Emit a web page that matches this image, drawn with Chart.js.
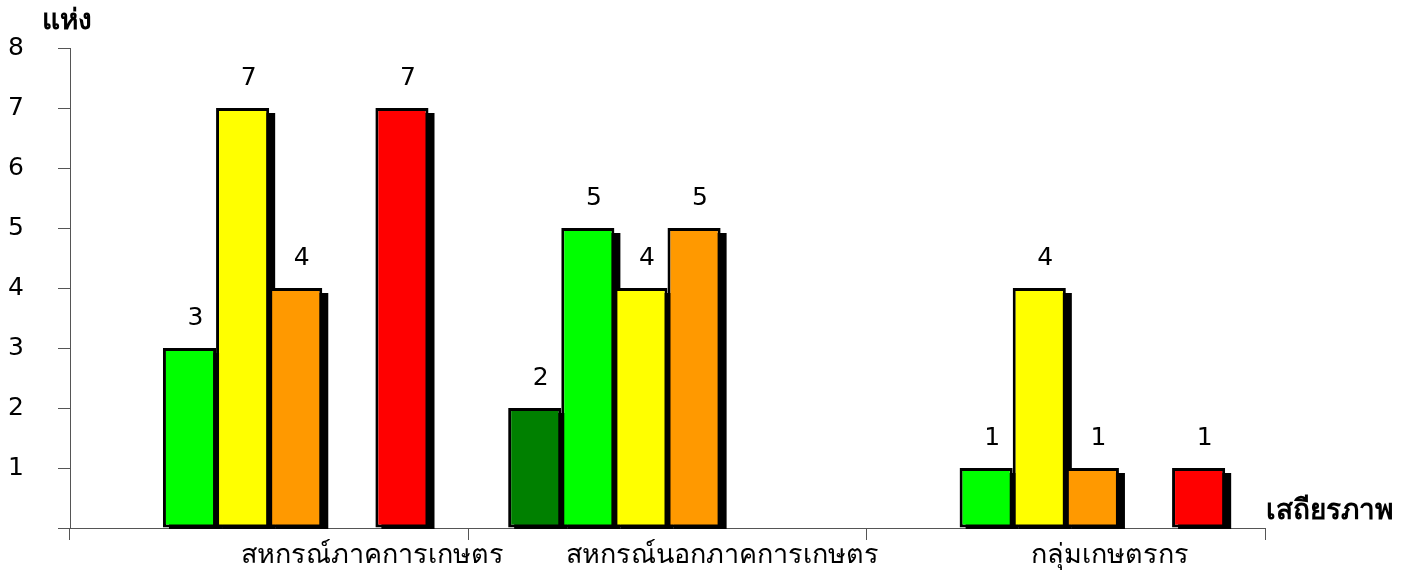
<!DOCTYPE html>
<html lang="th">

<head>
	<meta charset="UTF-8">
	<title>เสถียรภาพ</title>
	<style>
		body { margin: 0; background: #fff; }
	</style>
</head>

<body>
	<canvas id="myChart" width="1408" height="573"></canvas>

	<script src="https://cdn.jsdelivr.net/npm/chart.js"></script>
	<script>
		const categories = ['สหกรณ์ภาคการเกษตร', 'สหกรณ์นอกภาคการเกษตร', 'กลุ่มเกษตรกร'];
		const darkGreenValues = [null, 2, null];
		const greenValues = [3, 5, 1];
		const yellowValues = [7, 4, 4];
		const orangeValues = [4, 5, 1];
		const emptyValues = [null, null, null];
		const redValues = [7, null, 1];
		const yMax = 8;

		const FONT = "'DejaVu Sans', 'Noto Sans', sans-serif";
		// the x labels in the picture sit right of the category centres
		const labelShift = [103, 55, 44];

		function bars(label, values, color) {
			return {
				label: label,
				data: values,
				backgroundColor: color,
				borderColor: '#000',
				borderWidth: 3,
				borderSkipped: false,
				barPercentage: 1,
				categoryPercentage: 0.8
			};
		}

		const data = {
			labels: categories,
			datasets: [
				bars('1', darkGreenValues, '#008000'),
				bars('2', greenValues, '#00ff00'),
				bars('3', yellowValues, '#ffff00'),
				bars('4', orangeValues, '#ff9900'),
				bars('5', emptyValues, '#ffffff'),
				bars('6', redValues, '#ff0000')
			]
		};

		const decor = {
			id: 'decor',
			beforeDatasetsDraw: (chart) => {
				const ctx = chart.ctx;
				const base = chart.scales.y.getPixelForValue(0);
				ctx.save();
				ctx.fillStyle = '#000';
				chart.data.datasets.forEach((ds, i) => {
					chart.getDatasetMeta(i).data.forEach((bar, j) => {
						if (ds.data[j] == null) return;
						const w = bar.width;
						ctx.fillRect(bar.x - w / 2 + 6, bar.y + 5, w, base - bar.y - 4);
					});
				});
				ctx.restore();
			},
			afterDatasetsDraw: (chart) => {
				const ctx = chart.ctx;
				ctx.save();
				ctx.fillStyle = '#000';
				ctx.textAlign = 'center';
				ctx.textBaseline = 'middle';
				ctx.font = '25px ' + FONT;
				chart.data.datasets.forEach((ds, i) => {
					chart.getDatasetMeta(i).data.forEach((bar, j) => {
						if (ds.data[j] == null) return;
						ctx.fillText(String(ds.data[j]), bar.x + 6, bar.y - 30);
					});
				});
				ctx.restore();
			},
			afterDraw: (chart) => {
				const ctx = chart.ctx;
				const x = chart.scales.x;
				const y = chart.scales.y;
				ctx.save();
				ctx.fillStyle = '#000';
				ctx.textBaseline = 'middle';
				ctx.font = '27px ' + FONT;
				ctx.textAlign = 'center';
				categories.forEach((c, i) => {
					ctx.fillText(c, x.getPixelForValue(i) + labelShift[i], x.top + 28);
				});
				ctx.font = 'bold 28px ' + FONT;
				ctx.textAlign = 'left';
				ctx.fillText('เสถียรภาพ', x.right + 1, x.top - 16);
				ctx.fillText('แห่ง', y.right - 28, y.top - 26);
				ctx.restore();
			}
		};

		const config = {
			type: 'bar',
			data: data,
			plugins: [decor],
			options: {
				responsive: false,
				animation: false,
				devicePixelRatio: 1,
				layout: {
					padding: { top: 48, right: 143, left: 0, bottom: 0 }
				},
				plugins: {
					legend: { display: false },
					tooltip: { enabled: false }
				},
				scales: {
					x: {
						afterFit: (s) => { s.height = 45; },
						ticks: { display: false },
						grid: {
							offset: true,
							drawOnChartArea: false,
							tickLength: 12,
							color: '#555'
						},
						border: { color: '#555', width: 1 }
					},
					y: {
						min: 0,
						max: yMax,
						afterFit: (s) => {
							s.width = 70;
							// big label padding would otherwise push the plot area in
							s.paddingTop = 10;
							s.paddingBottom = 10;
						},
						ticks: {
							stepSize: 1,
							padding: 34,
							color: '#000',
							font: { family: FONT, size: 25 },
							callback: (v) => (v === 0 ? '' : v)
						},
						grid: {
							drawOnChartArea: false,
							tickLength: 12,
							color: '#555'
						},
						border: { color: '#555', width: 1 }
					}
				}
			}
		};

		const myChart = new Chart(document.getElementById('myChart'), config);
	</script>
</body>

</html>
